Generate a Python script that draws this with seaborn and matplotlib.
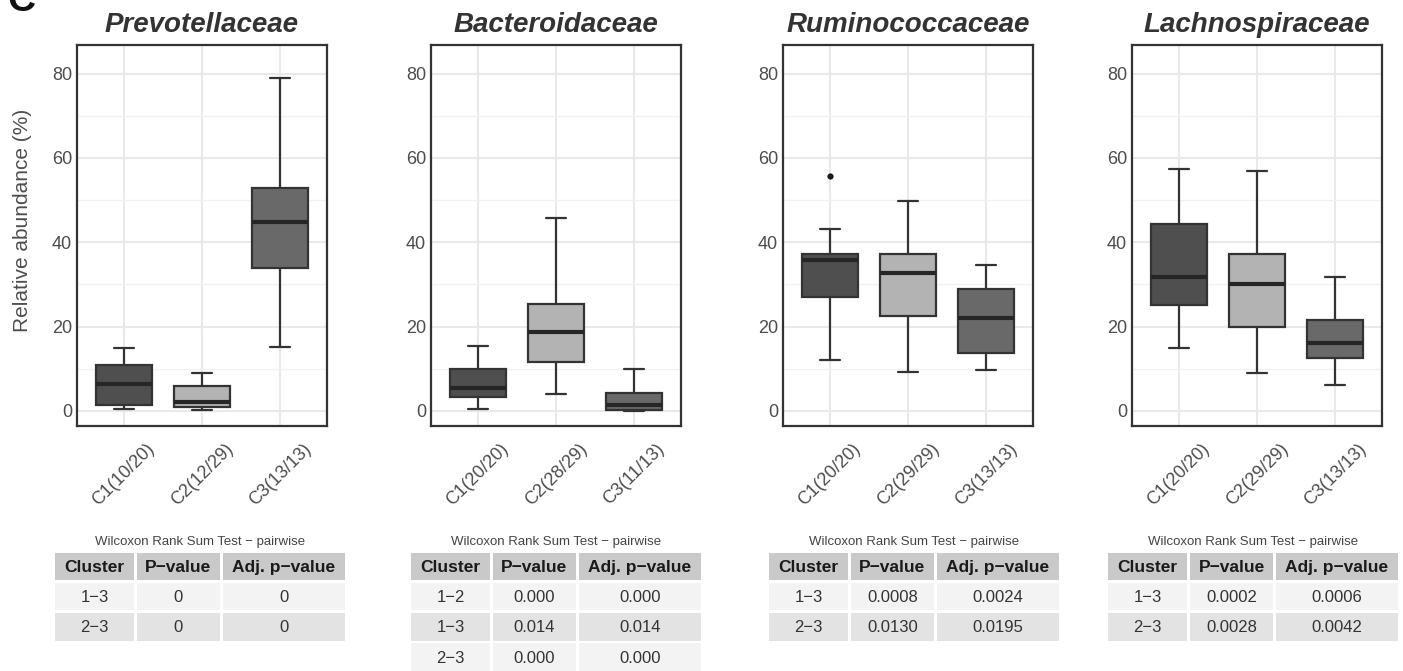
import numpy as np
import pandas as pd
import matplotlib
matplotlib.use("Agg")
import matplotlib.pyplot as plt
from matplotlib.patches import Rectangle
import seaborn as sns

# Families (panels) and cluster tick labels
families = ["Prevotellaceae", "Bacteroidaceae", "Ruminococcaceae", "Lachnospiraceae"]
prevotellaceae_labels = ["C1(10/20)", "C2(12/29)", "C3(13/13)"]
bacteroidaceae_labels = ["C1(20/20)", "C2(28/29)", "C3(11/13)"]
ruminococcaceae_labels = ["C1(20/20)", "C2(29/29)", "C3(13/13)"]
lachnospiraceae_labels = ["C1(20/20)", "C2(29/29)", "C3(13/13)"]

# Five-number summaries: [low whisker, Q1, median, Q3, high whisker]
prevotellaceae_box = [[0.4, 1.4, 6.4, 10.9, 14.9],
                      [0.3, 0.8, 2.0, 5.8, 8.9],
                      [15.1, 34.0, 44.7, 52.9, 79.0]]
bacteroidaceae_box = [[0.4, 3.2, 5.4, 10.0, 15.5],
                      [3.9, 11.6, 18.7, 25.4, 45.8],
                      [0.0, 0.2, 1.5, 4.3, 9.9]]
ruminococcaceae_box = [[12.1, 27.0, 35.7, 37.3, 43.1],
                       [9.1, 22.6, 32.7, 37.3, 49.8],
                       [9.6, 13.8, 22.1, 28.9, 34.7]]
lachnospiraceae_box = [[14.9, 25.1, 31.8, 44.4, 57.3],
                       [8.9, 20.0, 30.0, 37.3, 56.9],
                       [6.1, 12.6, 16.2, 21.5, 31.8]]

# Outliers (cluster index, value)
ruminococcaceae_outliers = [(0, 55.6)]

# Wilcoxon tables
table_header = ["Cluster", "P\u2212value", "Adj. p\u2212value"]
prevotellaceae_table = [["1\u22123", "0", "0"],
                        ["2\u22123", "0", "0"]]
bacteroidaceae_table = [["1\u22122", "0.000", "0.000"],
                        ["1\u22123", "0.014", "0.014"],
                        ["2\u22123", "0.000", "0.000"]]
ruminococcaceae_table = [["1\u22123", "0.0008", "0.0024"],
                         ["2\u22123", "0.0130", "0.0195"]]
lachnospiraceae_table = [["1\u22123", "0.0002", "0.0006"],
                         ["2\u22123", "0.0028", "0.0042"]]

all_labels = [prevotellaceae_labels, bacteroidaceae_labels,
              ruminococcaceae_labels, lachnospiraceae_labels]
all_boxes = [prevotellaceae_box, bacteroidaceae_box,
             ruminococcaceae_box, lachnospiraceae_box]
all_outliers = [[], [], ruminococcaceae_outliers, []]
all_tables = [prevotellaceae_table, bacteroidaceae_table,
              ruminococcaceae_table, lachnospiraceae_table]

box_fills = ["#4f4f4f", "#b3b3b3", "#696969"]
LINE = "#333333"

sns.set_style("white")
plt.rcParams['font.family'] = ['Liberation Sans', 'DejaVu Sans']

W, H = 1403, 671
fig = plt.figure(figsize=(W / 100, H / 100), dpi=100)

ax_lefts = [77, 431, 783, 1132]
ax_w = 250
ax_top, ax_bot = 45, 426

for i, fam in enumerate(families):
    labels = all_labels[i]
    rows = []
    for lab, five in zip(labels, all_boxes[i]):
        for v in five:
            rows.append({"cluster": lab, "value": v})
    df = pd.DataFrame(rows)

    ax = fig.add_axes([ax_lefts[i] / W, 1 - ax_bot / H, ax_w / W, (ax_bot - ax_top) / H])
    sns.boxplot(data=df, x="cluster", y="value", hue="cluster",
                order=labels, hue_order=labels,
                palette=dict(zip(labels, box_fills)), saturation=1,
                legend=False, whis=(0, 100), width=0.72, showfliers=False,
                linecolor=LINE, linewidth=1.6,
                medianprops=dict(color="#262626", linewidth=3.0),
                capwidths=0.26, ax=ax)

    if all_outliers[i]:
        out = pd.DataFrame({"cluster": [labels[c] for c, _ in all_outliers[i]],
                            "value": [v for _, v in all_outliers[i]]})
        sns.stripplot(data=out, x="cluster", y="value", order=labels,
                      jitter=False, size=4.5, color="#1a1a1a", ax=ax, zorder=5)

    ax.set_xlim(-0.6, 2.6)
    ax.set_ylim(-3.6, 86.8)
    ax.set_yticks([0, 20, 40, 60, 80])
    ax.set_yticks([10, 30, 50, 70], minor=True)
    ax.grid(True, which="major", color="#e9e9e9", linewidth=1.5)
    ax.grid(True, which="minor", axis="y", color="#f1f1f1", linewidth=1.0)
    ax.set_axisbelow(True)
    for sp in ax.spines.values():
        sp.set_color(LINE)
        sp.set_linewidth(1.6)
    ax.tick_params(axis="both", which="major", length=2.5, width=1.1, color=LINE,
                   labelcolor="#4d4d4d", labelsize=13)
    ax.tick_params(axis="y", which="major", pad=1)
    ax.tick_params(axis="x", which="major", pad=8)
    ax.tick_params(which="minor", length=0)
    ax.set_xticks(range(3))
    ax.set_xticklabels(labels, rotation=45, ha="center")
    ax.set_xlabel("")
    ax.set_ylabel("")
    ax.set_title(fam, fontsize=20, fontweight="bold", fontstyle="italic",
                 color="#333333", pad=9)

    if i == 0:
        ax.set_ylabel("Relative abundance (%)", fontsize=15, color="#4d4d4d")
        ax.yaxis.set_label_coords(-0.18, 0.54)

# Tables drawn on an overlay in pixel coordinates
ov = fig.add_axes([0, 0, 1, 1])
ov.set_xlim(0, W)
ov.set_ylim(H, 0)
ov.axis("off")

table_centers = [200, 556, 914, 1253]
col_w = [79, 83, 122]
gap = 3
row_h = 27.5
row_pitch = 30.3
header_top = 552.5
row_colors = ["#f3f3f3", "#e3e3e3"]

for i, rows in enumerate(all_tables):
    total = sum(col_w) + gap * 2
    left = table_centers[i] - total / 2
    ov.text(table_centers[i], 541.5, "Wilcoxon Rank Sum Test \u2212 pairwise",
            ha="center", va="center", fontsize=9.5, color="#444444")
    for r, cells in enumerate([table_header] + rows):
        y0 = header_top + r * row_pitch
        x0 = left
        for c, txt in enumerate(cells):
            color = "#c9c9c9" if r == 0 else row_colors[(r - 1) % 2]
            ov.add_patch(Rectangle((x0, y0), col_w[c], row_h, facecolor=color,
                                   edgecolor="none"))
            if r == 0:
                ov.text(x0 + col_w[c] / 2, y0 + row_h / 2 + 1, txt, ha="center",
                        va="center", fontsize=12.5, fontweight="bold", color="#1a1a1a")
            else:
                ov.text(x0 + col_w[c] / 2, y0 + row_h / 2 + 1, txt, ha="center",
                        va="center", fontsize=12, color="#333333")
            x0 += col_w[c] + gap

# Panel letter (cut off at the top, as in the original)
fig.text(7 / W, 1 - 11 / H, "C", fontsize=28, fontweight="bold",
         ha="left", va="baseline", color="#111111")

fig.savefig("out.png", dpi=100)
